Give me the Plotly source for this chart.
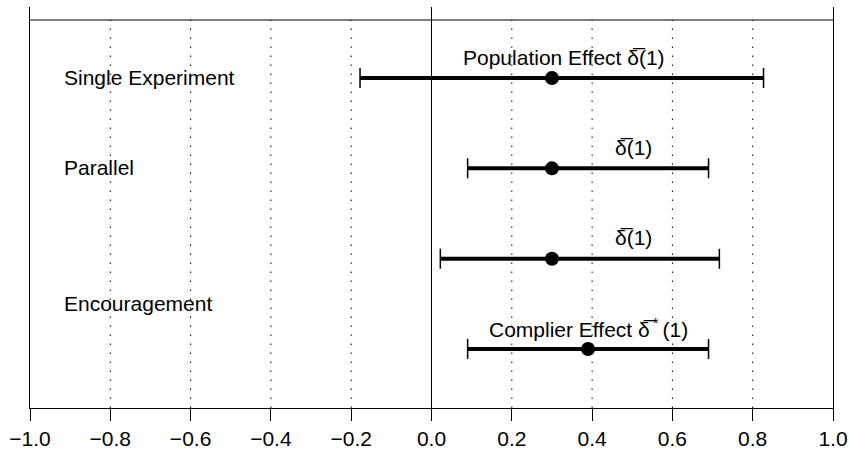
import plotly.graph_objects as go

# Data
rows = [4, 3, 2, 1]
row_labels = ["Single Experiment", "Parallel", "", ""]
estimates = [0.30, 0.30, 0.30, 0.39]
lower = [-0.178, 0.09, 0.022, 0.09]
upper = [0.827, 0.690, 0.717, 0.690]
effect_labels = ["Population Effect δ\u0305(1)", "δ\u0305(1)", "δ\u0305(1)",
                 "Complier Effect δ\u0305<sup>\u2009*</sup>\u2009(1)"]
effect_label_x = [0.329, 0.503, 0.503, 0.39]
grid_vals = [-0.8, -0.6, -0.4, -0.2, 0.2, 0.4, 0.6, 0.8]
tick_vals = [-1.0, -0.8, -0.6, -0.4, -0.2, 0.0, 0.2, 0.4, 0.6, 0.8, 1.0]

YMIN, YMAX, YTOP = 0.347, 4.786, 4.642
FONT = "Liberation Sans, Arial, Helvetica, sans-serif"

fig = go.Figure()

# thick interval lines
lx, ly = [], []
for r, lo, hi in zip(rows, lower, upper):
    lx += [lo, hi, None]
    ly += [r, r, None]
fig.add_trace(go.Scatter(x=lx, y=ly, mode="lines",
                         line=dict(color="black", width=4),
                         hoverinfo="skip", showlegend=False))

# caps via error bars + points
fig.add_trace(go.Scatter(
    x=estimates, y=rows, mode="markers",
    marker=dict(color="black", size=14),
    error_x=dict(type="data", symmetric=False,
                 array=[h - e for h, e in zip(upper, estimates)],
                 arrayminus=[e - l for e, l in zip(estimates, lower)],
                 color="black", thickness=1.5, width=10),
    showlegend=False))

shapes = []
for g in grid_vals:
    shapes.append(dict(type="line", xref="x", yref="y", x0=g, x1=g, y0=YMIN, y1=YTOP,
                       line=dict(color="black", width=1, dash="1.5px,7.5px"), layer="below"))
shapes.append(dict(type="line", xref="x", yref="y", x0=-1, x1=1, y0=YTOP, y1=YTOP,
                   line=dict(color="black", width=1)))

annotations = []
for r, lab in zip(rows, row_labels):
    if lab:
        annotations.append(dict(x=-0.92, y=r, xref="x", yref="y", text=lab, showarrow=False,
                                xanchor="left", yanchor="middle", yshift=1,
                                font=dict(size=21, color="black", family=FONT)))
annotations.append(dict(x=-0.92, y=1.5, xref="x", yref="y", text="Encouragement",
                        showarrow=False, xanchor="left", yanchor="middle",
                        font=dict(size=21, color="black", family=FONT)))
for r, lab, x in zip(rows, effect_labels, effect_label_x):
    annotations.append(dict(x=x, y=r, xref="x", yref="y", text=lab, showarrow=False,
                            xanchor="center", yanchor="middle", yshift=21,
                            font=dict(size=21, color="black", family=FONT)))

fig.update_layout(
    width=849, height=455,
    margin=dict(l=30, r=16, t=7, b=47, autoexpand=False),
    plot_bgcolor="white", paper_bgcolor="white",
    shapes=shapes, annotations=annotations,
    font=dict(family=FONT, size=21, color="black"),
    xaxis=dict(range=[-1, 1], tickvals=tick_vals, tickformat=".1f", automargin=False,
               showgrid=False, zeroline=True, zerolinecolor="black", zerolinewidth=1,
               showline=True, linecolor="black", linewidth=1,
               ticks="outside", ticklen=12, tickcolor="black", tickwidth=1,
               tickfont=dict(size=21, color="black", family=FONT)),
    yaxis=dict(range=[YMIN, YMAX], showgrid=False, zeroline=False, automargin=False,
               showticklabels=False, ticks="",
               showline=True, mirror=True, linecolor="black", linewidth=1),
)

fig.write_html("out.html", config={"displayModeBar": False},
               post_script="document.body.style.margin='0px';document.body.style.overflow='hidden';")
